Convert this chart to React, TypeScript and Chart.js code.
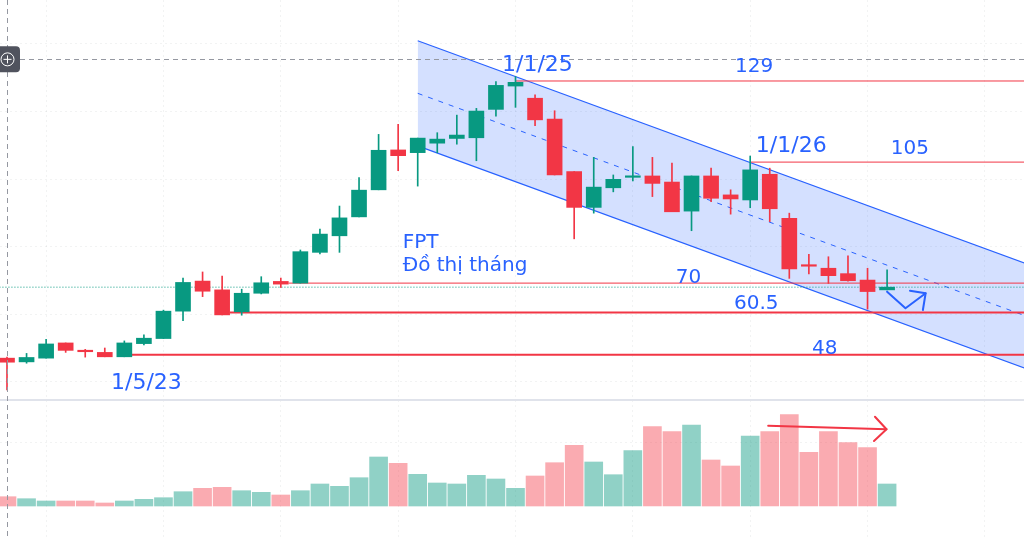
import { useEffect, useRef } from "react"
import { Chart, registerables } from "chart.js"

Chart.register(...registerables)

// FPT – nến tháng, bắt đầu từ 11/2022
const opens = [47.0, 45.9, 47.0, 51.5, 49.1, 48.7, 47.4, 51.3, 52.8, 60.9, 69.8, 67.2, 60.7, 66.2, 69.7, 69.2, 78.3, 83.2, 88.8, 96.8, 108.6, 107.8, 110.6, 112.0, 112.2, 120.6, 127.5, 123.9, 117.7, 102.2, 91.6, 97.4, 100.5, 100.9, 99.1, 90.5, 100.9, 95.3, 93.8, 101.4, 88.4, 74.6, 73.6, 72.0, 70.1, 67.2]
const highs = [47.3, 48.4, 52.6, 51.5, 49.6, 50.0, 52.1, 53.9, 61.2, 70.7, 72.5, 71.3, 67.4, 71.1, 70.7, 79.0, 85.2, 92.0, 100.4, 113.2, 116.2, 112.1, 113.7, 118.9, 120.9, 128.8, 130.3, 124.9, 120.2, 102.2, 106.4, 101.2, 109.6, 106.4, 104.7, 100.9, 103.2, 96.8, 106.8, 103.2, 89.9, 77.7, 77.0, 77.3, 73.6, 73.1]
const lows = [37.6, 45.5, 47.0, 48.7, 47.3, 47.4, 47.4, 50.9, 52.8, 58.1, 65.2, 59.8, 59.7, 66.0, 67.9, 69.2, 77.8, 78.3, 88.8, 96.8, 102.5, 97.9, 107.8, 110.3, 105.4, 118.6, 121.2, 115.8, 101.2, 82.3, 89.9, 96.2, 99.4, 94.8, 90.3, 84.7, 93.3, 89.6, 91.5, 87.4, 70.6, 71.9, 69.1, 69.8, 61.5, 67.2]
const closes = [45.8, 47.2, 51.2, 49.3, 48.9, 47.4, 51.5, 52.9, 60.9, 69.4, 66.8, 59.8, 66.2, 69.3, 68.9, 78.5, 83.7, 88.5, 96.7, 108.5, 106.9, 112.1, 111.8, 113.0, 120.1, 127.7, 128.6, 117.5, 101.2, 91.6, 97.6, 99.9, 100.9, 98.7, 90.3, 100.9, 94.3, 94.1, 102.7, 91.2, 73.4, 74.2, 71.4, 69.9, 66.7, 68.0]
const volumes = [9.3, 7.3, 5, 5, 5, 3, 5, 6.7, 8.3, 14.3, 17.7, 18.7, 15.3, 13.7, 11, 15.3, 22, 19.7, 28.3, 49, 42.7, 31.7, 23, 22, 30.7, 27, 17.7, 30, 43.3, 60.7, 44, 31.3, 55.3, 79.3, 74.3, 81, 46, 40, 70, 74.3, 91.3, 53.7, 74.3, 63.3, 58.3, 22]

// các mức giá đã vẽ
const levels = [129, 105, 69.2, 60.5, 48]
const levelStarts = [26, 38, 14.4, 11.4, 6.35]
const levelWidths = [1, 1, 1, 2, 2]

// kênh giảm giá
const channelIdx = [21, 53]
const channelUpper = [140.9, 73.1]
const channelLower = [109.8, 42.0]
const channelMid = [125.35, 57.55]

const monthTicks = [2, 8, 14, 20, 26, 32, 38, 44, 50]
const priceTicks = [40, 60, 80, 100, 120, 140]
const volumeTicks = [64]

const notes = [
  { text: "1/1/25", x: 25.31, y: 132.0, size: 22 },
  { text: "129", x: 37.22, y: 131.7, size: 20 },
  { text: "1/1/26", x: 38.29, y: 108.1, size: 22 },
  { text: "105", x: 45.19, y: 107.4, size: 20 },
  { text: "FPT", x: 20.23, y: 79.7, size: 20 },
  { text: "Đồ thị tháng", x: 20.23, y: 72.9, size: 20 },
  { text: "70", x: 34.2, y: 69.2, size: 20 },
  { text: "60.5", x: 37.17, y: 61.5, size: 20 },
  { text: "48", x: 41.16, y: 48.2, size: 20 },
  { text: "1/5/23", x: 5.32, y: 37.8, size: 22 },
]

// mũi tên vẽ tay
const priceArrow = [[45.0, 66.66], [45.94, 61.75], [46.97, 66.19]]
const priceArrowHead = [[46.17, 66.96], [46.97, 66.19], [46.83, 61.25]]
const volArrow = [[38.92, 80.3], [44.97, 76.7]]
const volArrowHead = [[44.38, 89.3], [44.97, 76.7], [44.33, 65]]

const crossIdx = 0
const crossPrice = 135.4
const paneTop = 106

const UP = "#089981"
const DOWN = "#F23645"
const BLUE = "#2962FF"
const GRID = "rgba(42,46,57,0.06)"

const drawings = {
  id: "drawings",
  afterDatasetsDraw(chart: any) {
    const { ctx, scales } = chart
    const sx = scales.x
    const sy = scales.y
    const sv = scales.yv
    const W = chart.width
    const H = chart.height
    ctx.save()

    // đường phân cách khung khối lượng
    const sep = Math.round(sv.getPixelForValue(paneTop))
    ctx.fillStyle = "#e0e3eb"
    ctx.fillRect(0, sep - 1, W, 2)

    // crosshair
    const cx = sx.getPixelForValue(crossIdx)
    const cy = sy.getPixelForValue(crossPrice)
    ctx.strokeStyle = "#9598a1"
    ctx.lineWidth = 1
    ctx.setLineDash([5, 4])
    ctx.beginPath()
    ctx.moveTo(Math.round(cx) + 0.5, 0)
    ctx.lineTo(Math.round(cx) + 0.5, H)
    ctx.moveTo(20, Math.round(cy) + 0.5)
    ctx.lineTo(W, Math.round(cy) + 0.5)
    ctx.stroke()
    ctx.setLineDash([])

    ctx.fillStyle = "#50535e"
    ctx.beginPath()
    ctx.roundRect(-6, cy - 13, 26, 26, 4)
    ctx.fill()
    ctx.strokeStyle = "#ffffff"
    ctx.beginPath()
    ctx.arc(cx + 0.5, cy, 6.5, 0, Math.PI * 2)
    ctx.moveTo(cx - 3.5, cy)
    ctx.lineTo(cx + 4.5, cy)
    ctx.moveTo(cx + 0.5, cy - 4)
    ctx.lineTo(cx + 0.5, cy + 4)
    ctx.stroke()

    // mũi tên
    const poly = (pts: number[][], scale: any, color: string) => {
      ctx.strokeStyle = color
      ctx.lineWidth = 2
      ctx.lineJoin = "round"
      ctx.lineCap = "round"
      ctx.beginPath()
      pts.forEach(([a, b], k) => {
        const px = sx.getPixelForValue(a)
        const py = scale.getPixelForValue(b)
        if (k === 0) ctx.moveTo(px, py)
        else ctx.lineTo(px, py)
      })
      ctx.stroke()
    }
    poly(priceArrow, sy, BLUE)
    poly(priceArrowHead, sy, BLUE)
    poly(volArrow, sv, DOWN)
    poly(volArrowHead, sv, DOWN)

    // chữ
    ctx.fillStyle = BLUE
    ctx.textBaseline = "alphabetic"
    ctx.textAlign = "left"
    notes.forEach((n) => {
      ctx.font = `${n.size}px "DejaVu Sans"`
      ctx.fillText(n.text, sx.getPixelForValue(n.x), sy.getPixelForValue(n.y))
    })
    ctx.restore()
  },
}

export default function App() {
  const canvasRef = useRef<HTMLCanvasElement>(null)

  useEffect(() => {
    if (!canvasRef.current) return
    const idx = opens.map((_, i) => i)
    const up = idx.map((i) => closes[i] >= opens[i])
    const candleColors = up.map((u) => (u ? UP : DOWN))
    const volColors = up.map((u) => (u ? "rgba(8,153,129,0.45)" : "rgba(242,54,69,0.42)"))
    const lastPrice = closes[closes.length - 1]
    const lineBase = { type: "line", pointRadius: 0, tension: 0, fill: false }
    const gridOpts = { color: GRID, drawTicks: false, offset: false }

    const chart = new Chart(canvasRef.current, {
      type: "bar",
      data: {
        datasets: [
          {
            ...lineBase,
            label: "kênh trên",
            data: channelIdx.map((x, k) => ({ x, y: channelUpper[k] })),
            borderColor: BLUE,
            borderWidth: 1.2,
            backgroundColor: "rgba(41,98,255,0.2)",
            fill: "+1",
            order: 10,
          },
          {
            ...lineBase,
            label: "kênh dưới",
            data: channelIdx.map((x, k) => ({ x, y: channelLower[k] })),
            borderColor: BLUE,
            borderWidth: 1.2,
            order: 10,
          },
          {
            ...lineBase,
            label: "kênh giữa",
            data: channelIdx.map((x, k) => ({ x, y: channelMid[k] })),
            borderColor: BLUE,
            borderWidth: 1,
            borderDash: [5, 6],
            order: 9,
          },
          ...levels.map((lv, k) => ({
            ...lineBase,
            label: "mức " + lv,
            data: [
              { x: levelStarts[k], y: lv },
              { x: 53, y: lv },
            ],
            borderColor: DOWN,
            borderWidth: levelWidths[k],
            order: 6,
          })),
          {
            ...lineBase,
            label: "giá cuối",
            data: [
              { x: -1, y: lastPrice },
              { x: 53, y: lastPrice },
            ],
            borderColor: UP,
            borderWidth: 1,
            borderDash: [1, 2],
            order: 7,
          },
          {
            type: "bar",
            label: "khối lượng",
            data: idx.map((i) => ({ x: i, y: volumes[i] })),
            yAxisID: "yv",
            backgroundColor: volColors,
            barThickness: 18,
            grouped: false,
            order: 8,
          },
          {
            type: "bar",
            label: "bóng nến",
            data: idx.map((i) => ({ x: i, y: [lows[i], highs[i]] })),
            backgroundColor: candleColors,
            barThickness: 1,
            grouped: false,
            order: 2,
          },
          {
            type: "bar",
            label: "thân nến",
            data: idx.map((i) => ({
              x: i,
              y: [Math.min(opens[i], closes[i]), Math.max(opens[i], closes[i])],
            })),
            backgroundColor: candleColors,
            barThickness: 15,
            minBarLength: 1.5,
            grouped: false,
            order: 1,
          },
        ],
      } as any,
      options: {
        animation: false,
        responsive: false,
        events: [],
        layout: { padding: 0 },
        plugins: { legend: { display: false }, tooltip: { enabled: false } },
        scales: {
          x: {
            type: "linear",
            min: -0.358,
            max: 52.0,
            offset: false,
            grid: gridOpts,
            border: { display: false, dash: [2, 3] },
            ticks: { display: false },
            afterBuildTicks: (s: any) => {
              s.ticks = monthTicks.map((v) => ({ value: v }))
            },
          },
          y: {
            type: "linear",
            position: "left",
            min: -6.21,
            max: 152.96,
            grid: gridOpts,
            border: { display: false, dash: [2, 3] },
            ticks: { display: false },
            afterBuildTicks: (s: any) => {
              s.ticks = priceTicks.map((v) => ({ value: v }))
            },
          },
          yv: {
            type: "linear",
            position: "right",
            min: -32,
            max: 506,
            grid: gridOpts,
            border: { display: false, dash: [2, 3] },
            ticks: { display: false },
            afterBuildTicks: (s: any) => {
              s.ticks = volumeTicks.map((v) => ({ value: v }))
            },
          },
        },
      } as any,
      plugins: [drawings],
    })

    return () => chart.destroy()
  }, [])

  return (
    <div style={{ position: "fixed", left: 0, top: 0, width: 1024, height: 538, background: "#ffffff" }}>
      <canvas ref={canvasRef} width={1024} height={538} style={{ display: "block" }}></canvas>
    </div>
  )
}
